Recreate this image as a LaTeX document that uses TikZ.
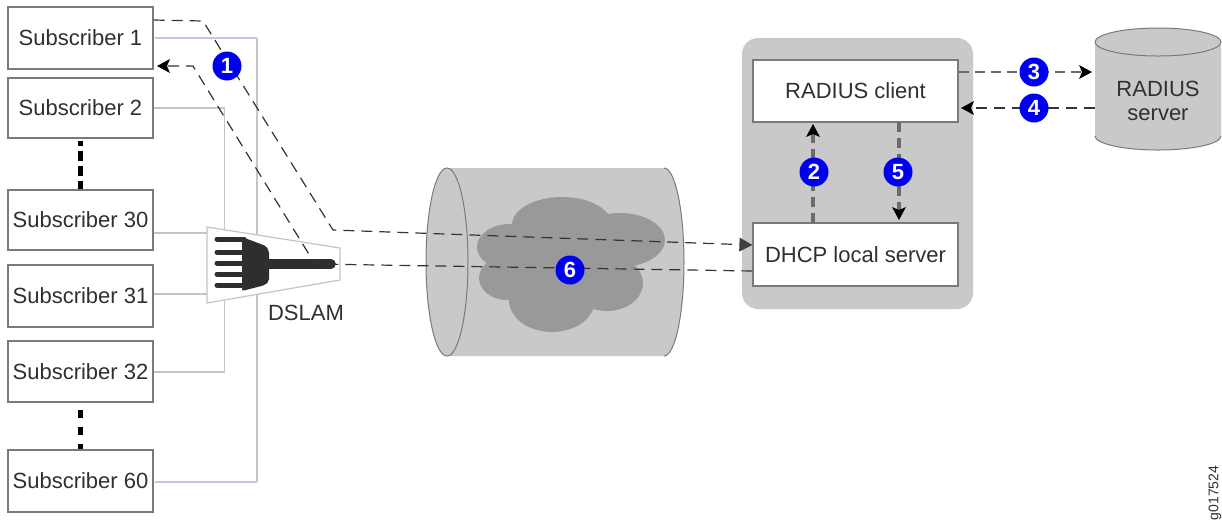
\documentclass[tikz,border=0pt]{standalone}
\usepackage{fontspec}
\setmainfont{Liberation Sans}
\usetikzlibrary{arrows.meta}
\definecolor{txt}{HTML}{303030}
\definecolor{panel}{HTML}{C9C9C9}
\definecolor{cloudc}{HTML}{999999}
\definecolor{wire}{HTML}{C4C4C4}
\definecolor{bluewire}{HTML}{C4C4F4}
\definecolor{edgec}{HTML}{7A7A7A}
\definecolor{badge}{HTML}{0000F0}
\tikzset{
  x=0.5pt,y=-0.5pt,
  subbox/.style={draw=edgec,line width=0.6pt,fill=white,minimum width=72.5pt,text=txt,font=\fontsize{11}{13}\selectfont,inner sep=0pt},
  srvbox/.style={draw=edgec,line width=0.6pt,fill=white,minimum width=102.5pt,text=txt,font=\fontsize{11}{13}\selectfont,inner sep=0pt},
  lbl/.style={text=txt,font=\fontsize{11}{13}\selectfont,inner sep=0pt,align=center},
  numdot/.style={circle,fill=badge,text=white,minimum size=14.5pt,inner sep=0pt,font=\bfseries\fontsize{11}{12}\selectfont},
  wireln/.style={draw=wire,line width=0.55pt},
  bluew/.style={draw=bluewire,line width=0.8pt},
  dashln/.style={draw=black!80,line width=0.6pt,dash pattern=on 5.5pt off 3.5pt},
  graydash/.style={draw=black!58,line width=1.2pt,dash pattern=on 5pt off 3pt},
  vgraydash/.style={draw=black!58,line width=1.6pt,dash pattern=on 5pt off 3pt},
  tip/.style={-{Stealth[length=6.5pt,width=7pt,inset=1.5pt,black,line width=0pt]}},
  tiptri/.style={-{Triangle[length=6.5pt,width=7pt,black!75,line width=0pt]}},
  dots/.style={draw=black,line width=2.5pt},
  cyledge/.style={draw=edgec,line width=0.5pt}
}
\begin{document}
\begin{tikzpicture}
\useasboundingbox (0,0) rectangle (1222,527);
\node[subbox,minimum height=31pt] (s1) at (80.5,38) {Subscriber 1};
\node[subbox,minimum height=30pt] (s2) at (80.5,108) {Subscriber 2};
\node[subbox,minimum height=30pt] (s30) at (80.5,220) {Subscriber 30};
\node[subbox,minimum height=31pt] (s31) at (80.5,296) {Subscriber 31};
\node[subbox,minimum height=30.5pt] (s32) at (80.5,371.5) {Subscriber 32};
\node[subbox,minimum height=31pt] (s60) at (80.5,481) {Subscriber 60};
\coordinate (busAtop) at (257,38);
\coordinate (busAbot) at (257,482);
\coordinate (busBtop) at (224.6,108);
\coordinate (busBbot) at (224.6,372);
\draw[wireln] (busAtop) -- (busAbot);
\draw[bluew] (155,38) -- (busAtop);
\draw[bluew] (155,482) -- (busAbot);
\draw[wireln] (s2.east) -- (busBtop) -- (busBbot) -- (s32.east |- busBbot);
\draw[dots,dash pattern=on 5pt off 2.5pt,dash phase=2.5pt] (s2.south) ++(0,2) -- (s30.north);
\draw[dots,dash pattern=on 4pt off 4.5pt] (s32.south) ++(0,7) -- (s60.north);
% DSLAM
\coordinate (d1) at (207,227);
\coordinate (d2) at (340,248);
\coordinate (d3) at (340,280);
\coordinate (d4) at (207,303);
\draw[wireln] (s30.east |- 0,233) -- (d1 |- 0,233);
\draw[wireln] (s31.east |- 0,294) -- (d1 |- 0,294);
\draw[draw=wire,line width=0.6pt,fill=white] (d1) -- (d2) -- (d3) -- (d4) -- cycle;
\fill[black!82,rounded corners=1pt] (242,237) -- (266,246) -- (269,251) -- (269,281) -- (265,285) -- (242,291) -- cycle;
\foreach \yy in {239,252,263,274,285}
  \draw[black!82,line width=2.5pt,line cap=round] (217,\yy) -- (244,\yy);
\draw[black!82,line width=4.8pt,line cap=round] (268,264) -- (331,264);
\node[lbl] (dslam) at (306,313) {DSLAM};
% tunnel
\coordinate (cl) at (447,262);
\fill[panel] (447,168) -- (664,168) arc[start angle=-90,end angle=90,x radius=20,y radius=94] -- (447,356) arc[start angle=90,end angle=270,x radius=21,y radius=94] -- cycle;
\draw[cyledge] (664,168) arc[start angle=-90,end angle=90,x radius=20,y radius=94];
\draw[cyledge] (cl) ellipse[x radius=21,y radius=94];
% cloud
\fill[cloudc] (562,225) ellipse[x radius=50,y radius=28];
\fill[cloudc] (620,240) ellipse[x radius=45,y radius=27];
\fill[cloudc] (510,247) ellipse[x radius=33,y radius=23];
\fill[cloudc] (507,278) ellipse[x radius=28,y radius=22];
\fill[cloudc] (552,300) ellipse[x radius=43,y radius=32];
\fill[cloudc] (607,283) ellipse[x radius=36,y radius=28];
\fill[cloudc] (565,262) ellipse[x radius=62,y radius=32];
% right panel
\fill[panel,rounded corners=8pt] (742,38) rectangle (973,309);
\node[srvbox,minimum height=31pt] (rc) at (855.5,91) {RADIUS client};
\node[srvbox,minimum height=31.5pt] (dh) at (855.5,254.5) {DHCP local server};
% radius server
\fill[panel] (1095,42) arc[start angle=180,end angle=360,x radius=63,y radius=14] -- (1221,136) arc[start angle=0,end angle=180,x radius=63,y radius=14] -- cycle;
\draw[cyledge] (1158,42) ellipse[x radius=63,y radius=14];
\draw[cyledge] (1095,136) arc[start angle=180,end angle=0,x radius=63,y radius=14];
\node[lbl] (rs) at (1158,101) {RADIUS\\[-1pt]server};
% dashed connectors
\coordinate (a) at (203,21);
\coordinate (b) at (333,230);
\coordinate (c) at (193,66);
\coordinate (e) at (315,264);
\draw[dashln,tiptri] (s1.east |- 0,20) -- (a) -- (b) -- (dh.west |- 0,245);
\draw[dashln,tip] (dh.west |- 0,271) -- (e) -- (c) -- (157,66);
\draw[graydash,tip] (rc.east |- 0,72) -- (1092,72);
\draw[dashln,tip] (1095,108) -- (961,108);
\draw[vgraydash,tip] (813,223) -- (813,124);
\draw[vgraydash,tip] (899,122) -- (899,220);
% badges
\node[numdot] (n1) at (227,66) {1};
\node[numdot] (n2) at (814,172) {2};
\node[numdot] (n3) at (1034,72) {3};
\node[numdot] (n4) at (1034,108) {4};
\node[numdot] (n5) at (898,172) {5};
\node[numdot] (n6) at (570,270) {6};
\node[text=txt,font=\fontsize{7}{8}\selectfont,rotate=90,inner sep=0pt] (gid) at (1215,493) {g017524};
\end{tikzpicture}
\end{document}
